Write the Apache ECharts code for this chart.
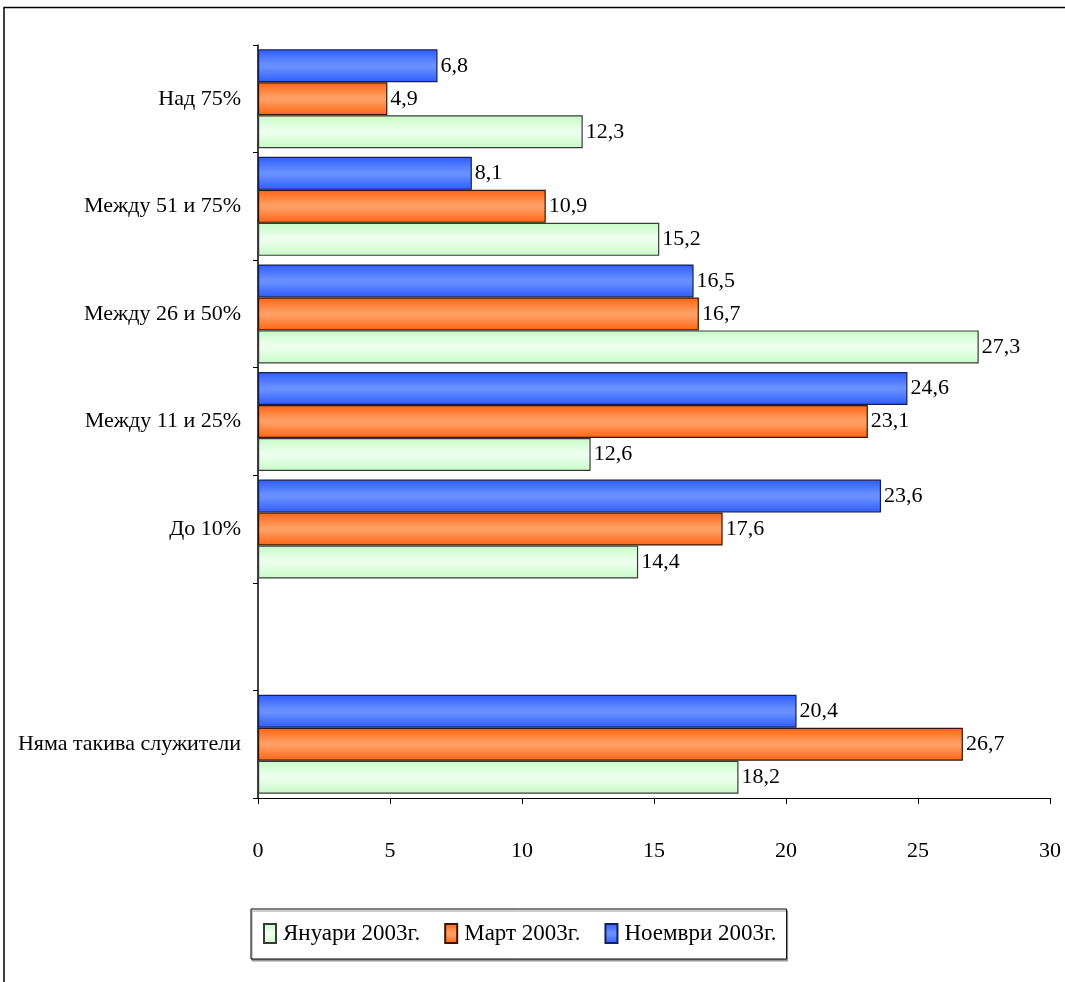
<!DOCTYPE html>
<html><head><meta charset="utf-8">
<script src="https://cdn.jsdelivr.net/npm/echarts@6/dist/echarts.min.js"></script>
<style>html,body{margin:0;padding:0;background:#fff}#c{width:1065px;height:982px}</style>
</head><body><div id="c"></div>
<script>
const categories = ['Няма такива служители', '', 'До 10%', 'Между 11 и 25%', 'Между 26 и 50%', 'Между 51 и 75%', 'Над 75%'];
const seriesNames = ['Януари 2003г.', 'Март 2003г.', 'Ноември 2003г.'];
const january = [18.2, null, 14.4, 12.6, 27.3, 15.2, 12.3];
const march = [26.7, null, 17.6, 23.1, 16.7, 10.9, 4.9];
const november = [20.4, null, 23.6, 24.6, 16.5, 8.1, 6.8];
const xTicks = [0, 5, 10, 15, 20, 25, 30];

const FONT = 'Liberation Serif';
function grad(edge, mid) {
  return new echarts.graphic.LinearGradient(0, 0, 0, 1, [
    {offset: 0, color: edge}, {offset: 0.45, color: mid}, {offset: 0.55, color: mid}, {offset: 1, color: edge}
  ]);
}
const styles = {
  'Януари 2003г.': {fill: grad('#c6fbc6', '#ecffec'), border: '#3a3a3a'},
  'Март 2003г.': {fill: grad('#ff6414', '#ff9e62'), border: '#3a1600'},
  'Ноември 2003г.': {fill: grad('#2f5cff', '#6690ff'), border: '#14205a'}
};
const datas = {'Януари 2003г.': january, 'Март 2003г.': march, 'Ноември 2003г.': november};
// draw order: first series is placed at the top of each category band
const drawOrder = ['Ноември 2003г.', 'Март 2003г.', 'Януари 2003г.'];

const chart = echarts.init(document.getElementById('c'));
chart.setOption({
  animation: false,
  backgroundColor: '#fff',
  graphic: [{
    type: 'polyline', shape: {points: [[4, 990], [4, 7.5], [1070, 7.5]]},
    style: {stroke: '#000', lineWidth: 1.5, fill: null}
  }],
  grid: {left: 258, right: 15, top: 45, bottom: 184},
  legend: {
    left: 251, top: 909, orient: 'horizontal',
    data: seriesNames.map(n => ({name: n, icon: 'rect'})),
    itemWidth: 12, itemHeight: 19, itemGap: 24,
    padding: [13, 10, 14, 12],
    borderColor: '#000', borderWidth: 1, backgroundColor: '#fff',
    shadowColor: '#999', shadowOffsetX: 1, shadowOffsetY: 2, shadowBlur: 0,
    textStyle: {fontFamily: FONT, fontSize: 23, color: '#000', padding: [0, 0, 0, 2]}
  },
  xAxis: {
    type: 'value', min: 0, max: 30, interval: 5,
    axisLine: {show: true, lineStyle: {color: '#000', width: 1}},
    axisTick: {show: true, length: 6, lineStyle: {color: '#000'}},
    splitLine: {show: false},
    axisLabel: {
      margin: 42, fontFamily: FONT, fontSize: 22, color: '#000',
      formatter: v => xTicks.includes(v) ? String(v) : ''
    }
  },
  yAxis: {
    type: 'category', data: categories,
    axisLine: {show: true, lineStyle: {color: '#000', width: 1.5}},
    axisTick: {show: true, length: 5, alignWithLabel: false, lineStyle: {color: '#000'}},
    axisLabel: {margin: 17, fontFamily: FONT, fontSize: 22, color: '#000'}
  },
  series: drawOrder.map(name => ({
    name: name, type: 'bar', data: datas[name],
    barGap: '0%', barCategoryGap: '8%',
    itemStyle: {color: styles[name].fill, borderColor: styles[name].border, borderWidth: 1.2},
    label: {
      show: true, position: 'right', distance: 3,
      fontFamily: FONT, fontSize: 22, color: '#000',
      formatter: p => p.value == null ? '' : String(p.value).replace('.', ',')
    }
  }))
});
</script></body></html>
